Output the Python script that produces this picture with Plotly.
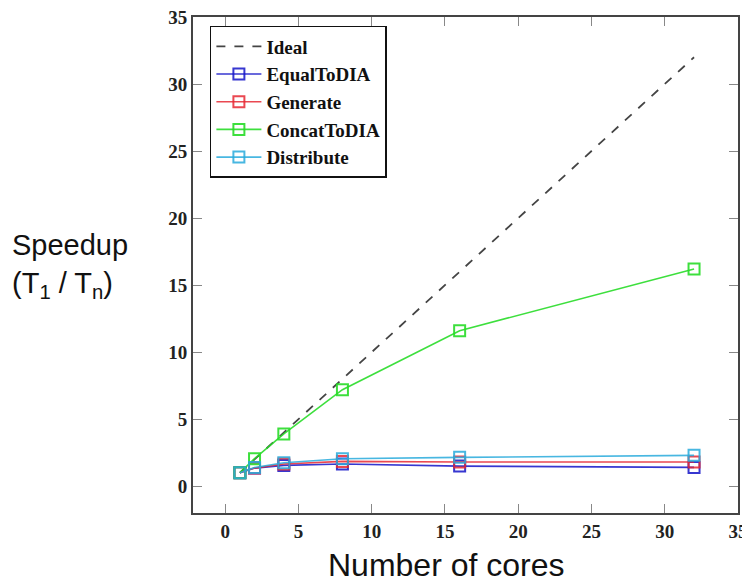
import plotly.graph_objects as go

cores = [1, 2, 4, 8, 16, 32]
ideal = [1, 2, 4, 8, 16, 32]
equal_to_dia = [1.0, 1.35, 1.55, 1.65, 1.5, 1.4]
generate = [1.0, 1.35, 1.65, 1.85, 1.8, 1.8]
concat_to_dia = [1.0, 2.05, 3.9, 7.2, 11.6, 16.2]
distribute = [1.0, 1.4, 1.75, 2.05, 2.15, 2.3]

series = [
    ("EqualToDIA", equal_to_dia, "rgba(20,20,200,0.85)"),
    ("Generate", generate, "rgba(230,40,50,0.85)"),
    ("ConcatToDIA", concat_to_dia, "rgba(40,220,40,0.9)"),
    ("Distribute", distribute, "rgba(40,170,220,0.85)"),
]

fig = go.Figure()
fig.add_trace(go.Scatter(
    x=cores, y=ideal, mode="lines", name="Ideal",
    line=dict(color="#444444", width=1.8, dash="dash"),
    legendgroup="g0",
))
for i, (name, vals, col) in enumerate(series):
    fig.add_trace(go.Scatter(
        x=cores, y=vals, mode="lines+markers", name=name,
        line=dict(color=col, width=1.6),
        marker=dict(symbol="square-open", size=11, color=col, line=dict(width=2)),
        legendgroup=f"g{i+1}",
    ))

tickfont = dict(family="Liberation Serif", size=19, color="#222222", weight="bold")
axis_common = dict(
    showline=True, linecolor="#444444", linewidth=2, mirror="ticks",
    ticks="inside", ticklen=9, tickwidth=1, tickcolor="#888888",
    showgrid=False, zeroline=False, tickfont=tickfont, automargin=False,
    ticklabeloverflow="allow",
)
fig.update_xaxes(range=[-2.2, 35], tickvals=[0, 5, 10, 15, 20, 25, 30, 35], **axis_common)
fig.update_yaxes(range=[-2, 35], tickvals=[0, 5, 10, 15, 20, 25, 30, 35], **axis_common)

fig.update_layout(
    width=742, height=576,
    margin=dict(l=185, r=12, t=9, b=71),
    paper_bgcolor="white", plot_bgcolor="white",
    showlegend=True,
    legend=dict(
        x=0.031, y=0.982, xanchor="left", yanchor="top",
        bordercolor="#111111", borderwidth=1.5, bgcolor="white",
        font=dict(family="Liberation Serif", size=19, color="#111111", weight="bold"),
        tracegroupgap=0, itemwidth=45,
    ),
    annotations=[
        dict(text="Speedup<br>(T<sub>1</sub> / T<sub>n</sub>)", xref="paper", yref="paper",
             x=-0.336, y=0.497, xanchor="left", yanchor="middle", showarrow=False, align="left",
             font=dict(family="Liberation Sans", size=29, color="#111111")),
        dict(text="Number of cores", xref="paper", yref="paper",
             x=0.466, y=-0.104, xanchor="center", yanchor="middle", showarrow=False,
             font=dict(family="Liberation Sans", size=32, color="#111111")),
    ],
)

fig.write_html("out.html")
